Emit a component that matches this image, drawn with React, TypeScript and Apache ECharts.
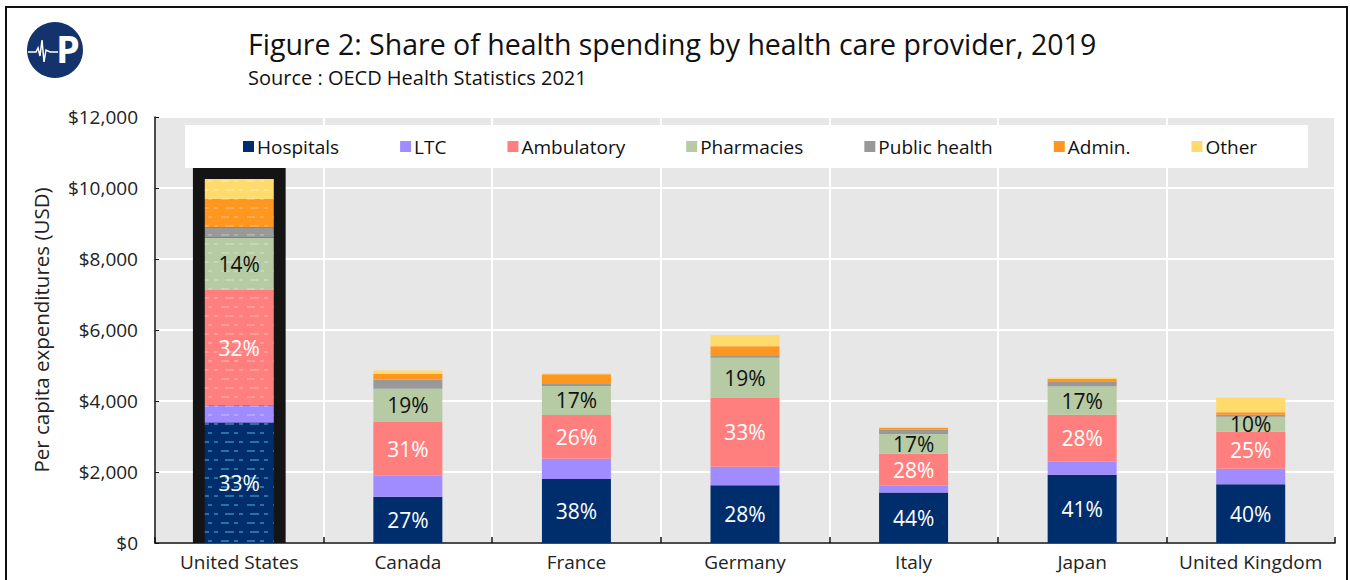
import React, { useEffect, useRef } from "react";
import * as echarts from "echarts";

const categories = ["United States", "Canada", "France", "Germany", "Italy", "Japan", "United Kingdom"];
const seriesNames = ["Hospitals", "LTC", "Ambulatory", "Pharmacies", "Public health", "Admin.", "Other"];
const hospitals = [3390, 1305, 1803, 1630, 1425, 1920, 1653];
const ltc = [478, 591, 572, 520, 189, 370, 441];
const ambulatory = [3259, 1512, 1231, 1935, 900, 1320, 1040];
const pharmacies = [1473, 935, 817, 1135, 554, 808, 420];
const publicHealth = [283, 263, 56, 48, 122, 141, 57];
const admin = [807, 160, 273, 272, 47, 65, 75];
const other = [564, 93, 28, 319, 28, 28, 404];
const hospitalLabels = ["33%", "27%", "38%", "28%", "44%", "41%", "40%"];
const ambulatoryLabels = ["32%", "31%", "26%", "33%", "28%", "28%", "25%"];
const pharmacyLabels = ["14%", "19%", "17%", "19%", "17%", "17%", "10%"];
const highlightBox = [[0, 10580]];
const yTicks = [0, 2000, 4000, 6000, 8000, 10000, 12000];

const colors = ["#002E6D", "#A18CFF", "#FF7F7E", "#B6CAA3", "#999999", "#FF961F", "#FFDB6E"];
const FONT = "Open Sans";

export default function App() {
  const ref = useRef<HTMLDivElement>(null);
  useEffect(() => {
    if (!ref.current) return;
    const chart = echarts.init(ref.current, null, { renderer: "svg" });
    const values = [hospitals, ltc, ambulatory, pharmacies, publicHealth, admin, other];
    const labelSets: Record<number, { arr: string[]; color: string }> = {
      0: { arr: hospitalLabels, color: "#ffffff" },
      2: { arr: ambulatoryLabels, color: "#ffffff" },
      3: { arr: pharmacyLabels, color: "#111111" },
    };
    const mkDecal = (i: number) => ({
      symbol: "rect",
      symbolSize: 1,
      color: i === 0 ? "rgba(70,170,210,0.55)" : "rgba(255,255,255,0.22)",
      dashArrayX: [[9, 5, 4, 7], [4, 9, 8, 5]],
      dashArrayY: [1.5, 7],
      rotation: 0,
    });
    const barSeries = values.map((arr, i) => ({
      name: seriesNames[i],
      type: "bar",
      stack: "total",
      barWidth: 69,
      z: 3,
      itemStyle: { color: colors[i] },
      data: arr.map((v, j) =>
        j === 0 ? { value: v, itemStyle: { decal: mkDecal(i) } } : v
      ),
      label: labelSets[i]
        ? {
            show: true,
            position: "inside",
            fontFamily: FONT,
            fontSize: 21,
            color: labelSets[i].color,
            formatter: (p: any) => labelSets[i].arr[p.dataIndex],
          }
        : { show: false },
    }));

    chart.setOption({
      animation: false,
      textStyle: { fontFamily: FONT },
      grid: {
        left: 155,
        right: 15,
        top: 117,
        bottom: 37,
        show: true,
        backgroundColor: "#E7E7E7",
        borderWidth: 0,
      },
      legend: {
        data: seriesNames,
        left: 185,
        top: 125,
        padding: [12, 51, 12, 58],
        backgroundColor: "#ffffff",
        icon: "rect",
        itemWidth: 11,
        itemHeight: 11,
        itemGap: 61,
        textStyle: { fontFamily: FONT, fontSize: 19, color: "#111", padding: [0, 0, 0, -2] },
        z: 10,
      },
      xAxis: {
        type: "category",
        data: categories,
        axisLine: { lineStyle: { color: "#111", width: 1.5 } },
        axisTick: { show: true, inside: true, length: 6, interval: 0, lineStyle: { color: "#111", width: 1.5 } },
        splitLine: { show: true, interval: 0, lineStyle: { color: "#ffffff", width: 2 } },
        axisLabel: { fontFamily: FONT, fontSize: 19, color: "#222", margin: 9, interval: 0 },
      },
      yAxis: {
        type: "value",
        min: 0,
        max: 12000,
        interval: 2000,
        name: "Per capita expenditures (USD)",
        nameLocation: "middle",
        nameGap: 104,
        nameTextStyle: { fontFamily: FONT, fontSize: 20.5, color: "#222" },
        axisLine: { show: true, lineStyle: { color: "#111", width: 1.5 } },
        axisTick: { show: true, inside: true, length: 4, lineStyle: { color: "#111" } },
        splitLine: { show: true, lineStyle: { color: "#ffffff", width: 2 } },
        axisLabel: {
          fontFamily: FONT,
          fontSize: 19,
          color: "#222",
          margin: 17,
          formatter: (v: number) =>
            yTicks.includes(v) ? "$" + v.toLocaleString("en-US") : "",
        },
      },
      graphic: [
        {
          type: "rect",
          shape: { x: 6, y: 7, width: 1341, height: 600 },
          style: { fill: "none", stroke: "#111", lineWidth: 2 },
          silent: true,
        },
        { type: "circle", shape: { cx: 55, cy: 50, r: 28 }, style: { fill: "#12336B" } },
        {
          type: "text",
          x: 56,
          y: 29,
          style: { text: "P", fill: "#ffffff", font: "bold 38px Open Sans" },
        },
        {
          type: "polyline",
          shape: {
            points: [
              [28, 52], [36, 52], [38, 48], [40, 56], [42, 40], [44, 62], [46, 50], [50, 52], [58, 52],
            ],
          },
          style: { stroke: "#ffffff", lineWidth: 1.5, fill: "none" },
        },
        {
          type: "text",
          x: 248,
          y: 43.5,
          style: {
            text: "Figure 2: Share of health spending by health care provider, 2019",
            fill: "#111",
            font: "28.5px Open Sans",
            verticalAlign: "middle",
          },
        },
        {
          type: "text",
          x: 248,
          y: 77.5,
          style: {
            text: "Source : OECD Health Statistics 2021",
            fill: "#111",
            font: "20px Open Sans",
            verticalAlign: "middle",
          },
        },
      ],
      series: [
        {
          type: "custom",
          name: "box",
          z: 1,
          silent: true,
          data: highlightBox,
          renderItem: (params: any, api: any) => {
            const base = api.coord([api.value(0), 0]);
            const top = api.coord([api.value(0), api.value(1)]);
            const w = api.size([1, 0])[0] * 0.55;
            return {
              type: "rect",
              shape: { x: base[0] - w / 2, y: top[1], width: w, height: base[1] - top[1] },
              style: { fill: "#141414" },
            };
          },
        },
        ...barSeries,
      ],
    });
    return () => chart.dispose();
  }, []);
  return (
    <div
      ref={ref}
      style={{ position: "absolute", left: 0, top: 0, width: 1350, height: 580, background: "#fff" }}
    />
  );
}
